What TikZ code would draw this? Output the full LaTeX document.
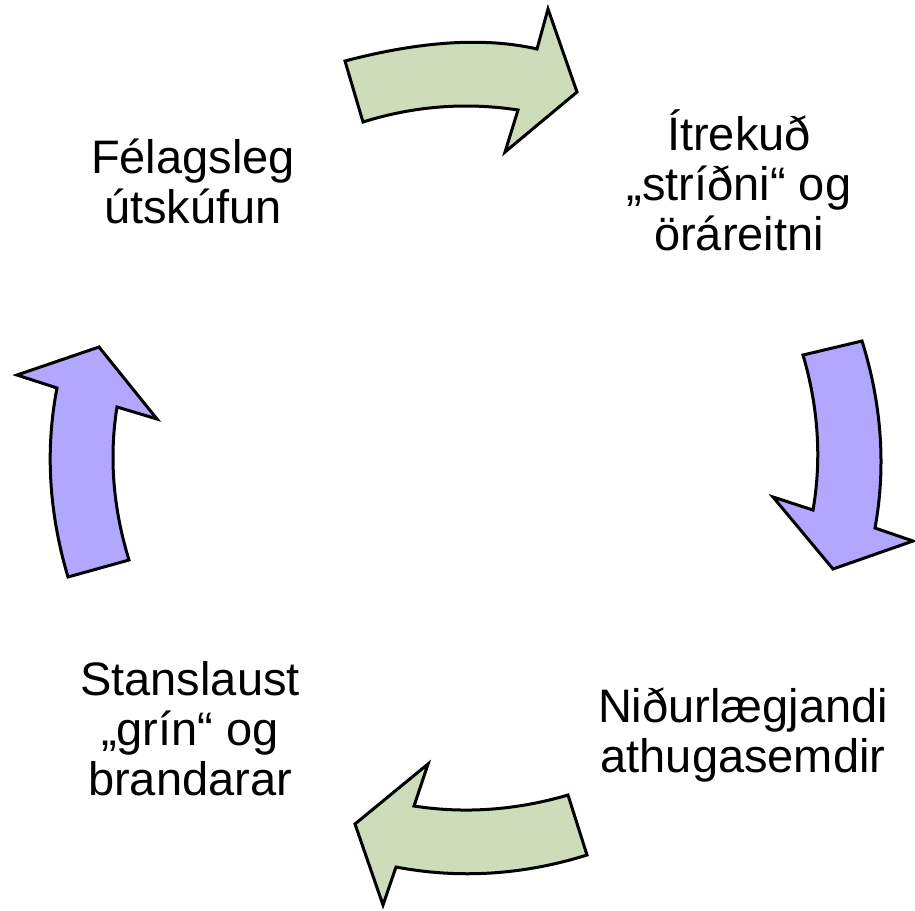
\documentclass[tikz,border=0pt]{standalone}
\usepackage{fontspec}
\setmainfont{Liberation Sans}
\definecolor{arrgreen}{RGB}{205,221,186}
\definecolor{arrpurple}{RGB}{177,167,255}
\tikzset{
  cyclearrow/.style={draw=black, line width=3pt, line join=miter, miter limit=10},
  label/.style={align=center, inner sep=0pt, font=\fontsize{47}{50}\selectfont}
}
\newcommand{\ls}{\strut}
\begin{document}
\begin{tikzpicture}[x=1pt,y=-1pt]
\useasboundingbox (0,0) rectangle (915,910);
% top arrow
\draw[cyclearrow, fill=arrgreen] (345,61) .. controls (421,41) and (485,37) .. (537,49)
  -- (548,9) -- (577,92) -- (505,152) -- (518,110)
  .. controls (466,102) and (414,106) .. (363,122) -- cycle;
% right arrow
\draw[cyclearrow, fill=arrpurple] (803,355) -- (862,341)
  .. controls (882,405) and (886,468) .. (875,528)
  -- (913,541) -- (833,569) -- (773,497) -- (813,510)
  .. controls (822,458) and (818,406) .. (803,355) -- cycle;
% bottom arrow
\draw[cyclearrow, fill=arrgreen] (568,795) -- (587,855)
  .. controls (523,875) and (459,879) .. (396,867)
  -- (383,905) -- (355,824) -- (428,764) -- (414,806)
  .. controls (465,814) and (517,810) .. (568,795) -- cycle;
% left arrow
\draw[cyclearrow, fill=arrpurple] (68,577) -- (129,560)
  .. controls (113,508) and (109,457) .. (117,407)
  -- (157,419) -- (99,347) -- (17,375) -- (57,388)
  .. controls (45,450) and (49,513) .. (68,577) -- cycle;
% labels
\node[label] (fel) at (193,188) {\ls Félagsleg\\\ls útskúfun};
\node[label] (itr) at (739,188) {\ls Ítrekuð\\\ls „stríðni“ og\\\ls öráreitni};
\node[label] (nid) at (743,737) {\ls Niðurlægjandi\\\ls athugasemdir};
\node[label] (sta) at (190,735) {\ls Stanslaust\\\ls „grín“ og\\\ls brandarar};
\end{tikzpicture}
\end{document}
